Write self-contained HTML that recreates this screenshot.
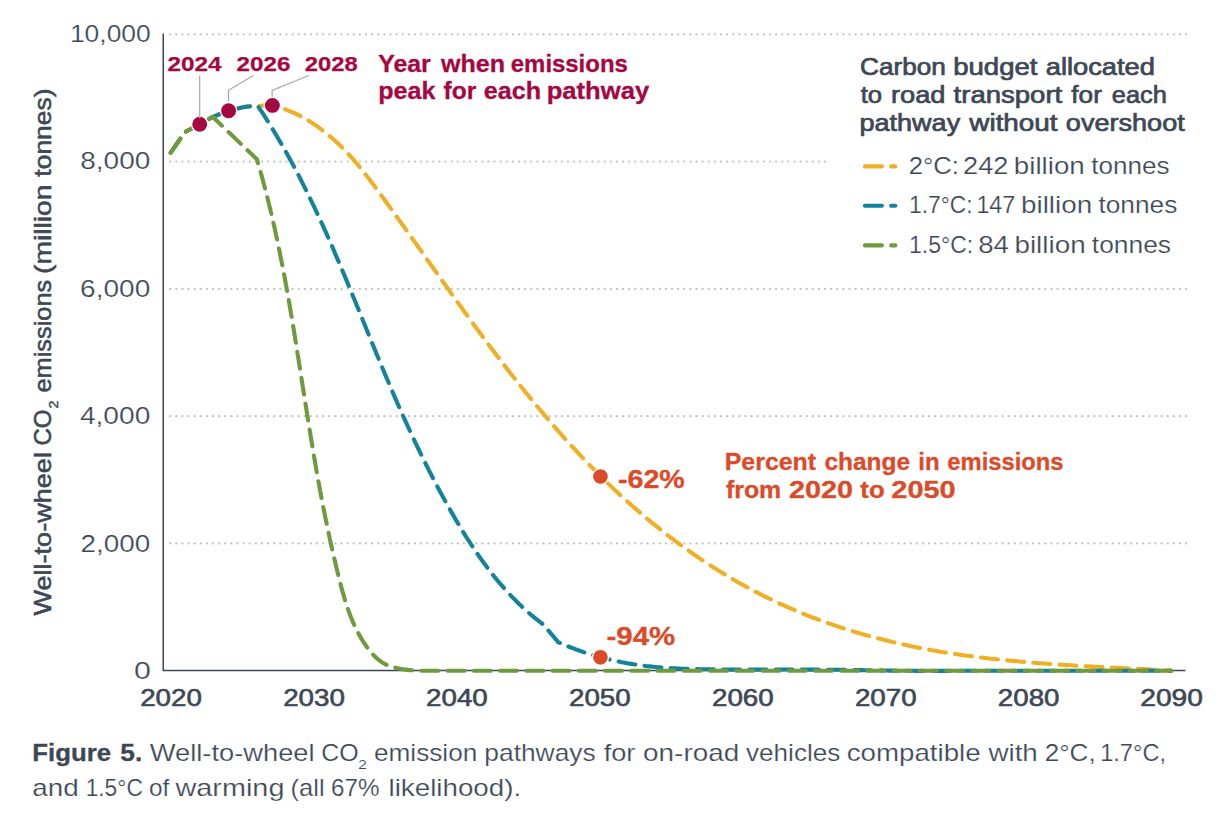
<!DOCTYPE html>
<html lang="en"><head><meta charset="utf-8"><title>Figure 5</title>
<style>html,body{margin:0;padding:0;background:#fff}svg{display:block}text{font-family:"Liberation Sans", Arial, sans-serif;}</style>
</head><body>
<svg width="1220" height="816" viewBox="0 0 1220 816">
<rect width="1220" height="816" fill="#fff"/>
<line x1="170.16" y1="34.35" x2="1186.6" y2="34.35" stroke="#c0c0c0" stroke-width="2.2" stroke-linecap="round" stroke-dasharray="0 6.1204"/>
<line x1="170.16" y1="161.62" x2="825.5" y2="161.62" stroke="#c0c0c0" stroke-width="2.2" stroke-linecap="round" stroke-dasharray="0 6.1204"/>
<line x1="170.16" y1="288.89" x2="1186.6" y2="288.89" stroke="#c0c0c0" stroke-width="2.2" stroke-linecap="round" stroke-dasharray="0 6.1204"/>
<line x1="170.16" y1="416.16" x2="1186.6" y2="416.16" stroke="#c0c0c0" stroke-width="2.2" stroke-linecap="round" stroke-dasharray="0 6.1204"/>
<line x1="170.16" y1="543.43" x2="1186.6" y2="543.43" stroke="#c0c0c0" stroke-width="2.2" stroke-linecap="round" stroke-dasharray="0 6.1204"/>
<path d="M163.25 33.5V670.6H1185.4" fill="none" stroke="#3e4652" stroke-width="1.5"/>
<path d="M170.7 152.7L184.9 132.1L199.7 124.2L212.8 116.9L214.7 116.1L216.7 115.3L218.7 114.5L220.6 113.8L222.6 113.0L224.6 112.3L226.6 111.6L228.6 111.0L230.7 110.3L232.7 109.7L234.7 109.2L236.8 108.7L238.8 108.2L240.9 107.7L243.0 107.3L245.1 106.9L247.1 106.6L249.2 106.4L251.3 106.1L253.5 106.0L255.6 105.9L257.7 105.8L272.4 105.4L274.4 105.9L276.3 106.4L278.2 107.0L280.2 107.6L282.1 108.3L284.0 108.9L285.9 109.6L287.7 110.3L289.6 111.1L291.4 111.9L293.2 112.7L295.1 113.5L296.9 114.3L298.6 115.2L300.4 116.1L302.2 117.1L303.9 118.0L305.7 119.0L307.4 120.0L309.1 121.1L310.8 122.1L312.5 123.2L314.1 124.3L315.8 125.4L317.4 126.5L319.0 127.7L320.6 128.9L322.2 130.1L323.8 131.3L325.4 132.5L327.0 133.8L328.5 135.1L330.0 136.3L331.6 137.6L333.1 139.0L334.6 140.3L336.0 141.7L337.5 143.0L338.9 144.4L340.4 145.8L341.8 147.2L343.2 148.6L344.6 150.1L346.0 151.5L347.4 153.0L348.7 154.4L350.1 155.9L351.4 157.4L352.8 158.9L354.1 160.4L355.4 161.9L356.7 163.5L358.0 165.0L359.2 166.5L360.5 168.1L361.8 169.7L363.0 171.2L364.3 172.8L365.5 174.4L366.8 176.0L368.0 177.5L369.2 179.1L370.4 180.7L371.6 182.3L372.8 183.9L374.1 185.6L375.3 187.2L376.4 188.8L377.6 190.4L378.8 192.0L380.0 193.6L381.2 195.3L382.4 196.9L383.6 198.5L384.8 200.1L385.9 201.8L387.1 203.4L388.3 205.0L389.5 206.6L390.6 208.2L391.8 209.9L393.0 211.5L394.2 213.1L395.3 214.8L396.5 216.4L397.7 218.0L398.8 219.6L400.0 221.3L401.2 222.9L402.3 224.5L403.5 226.1L404.7 227.8L405.8 229.4L407.0 231.0L408.1 232.7L409.3 234.3L410.5 235.9L411.6 237.6L412.8 239.2L413.9 240.8L415.1 242.4L416.3 244.1L417.4 245.7L418.6 247.3L419.7 249.0L420.9 250.6L422.0 252.2L423.2 253.9L424.3 255.5L425.5 257.1L426.7 258.8L427.8 260.4L429.0 262.0L430.1 263.7L431.3 265.3L432.4 266.9L433.6 268.5L434.7 270.2L435.9 271.8L437.1 273.4L438.2 275.1L439.4 276.7L440.5 278.3L441.7 280.0L442.8 281.6L444.0 283.2L445.2 284.8L446.3 286.5L447.5 288.1L448.6 289.7L449.8 291.4L451.0 293.0L452.1 294.6L453.3 296.2L454.5 297.9L455.6 299.5L456.8 301.1L458.0 302.7L459.1 304.4L460.3 306.0L461.5 307.6L462.6 309.2L463.8 310.9L465.0 312.5L466.2 314.1L467.3 315.7L468.5 317.4L469.7 319.0L470.9 320.6L472.1 322.2L473.2 323.8L474.4 325.5L475.6 327.1L476.8 328.7L478.0 330.3L479.2 331.9L480.4 333.5L481.6 335.2L482.8 336.8L484.0 338.4L485.2 340.0L486.4 341.6L487.6 343.2L488.8 344.8L490.0 346.4L491.2 348.0L492.4 349.6L493.6 351.2L494.8 352.8L496.0 354.4L497.2 356.0L498.5 357.6L499.7 359.2L500.9 360.8L502.1 362.4L503.4 364.0L504.6 365.6L505.8 367.2L507.0 368.8L508.3 370.4L509.5 372.0L510.7 373.6L512.0 375.1L513.2 376.7L514.5 378.3L515.7 379.9L517.0 381.5L518.2 383.0L519.5 384.6L520.7 386.2L522.0 387.8L523.2 389.3L524.5 390.9L525.7 392.5L527.0 394.0L528.3 395.6L529.5 397.1L530.8 398.7L532.1 400.2L533.4 401.8L534.6 403.3L535.9 404.9L537.2 406.4L538.5 408.0L539.8 409.5L541.1 411.1L542.4 412.6L543.7 414.1L545.0 415.7L546.3 417.2L547.6 418.7L548.9 420.3L550.2 421.8L551.5 423.3L552.8 424.8L554.1 426.3L555.4 427.8L556.8 429.4L558.1 430.9L559.4 432.4L560.7 433.9L562.1 435.4L563.4 436.9L564.7 438.4L566.1 439.9L567.4 441.3L568.8 442.8L570.1 444.3L571.5 445.8L572.8 447.3L574.2 448.7L575.6 450.2L576.9 451.7L578.3 453.1L579.7 454.6L581.0 456.1L582.4 457.5L583.8 459.0L585.2 460.4L586.5 461.9L587.9 463.3L589.3 464.8L590.7 466.2L592.1 467.6L593.5 469.0L594.9 470.5L596.3 471.9L597.8 473.3L599.2 474.7L600.6 476.1L602.0 477.6L603.4 479.0L604.9 480.4L606.3 481.8L607.7 483.2L609.2 484.5L610.6 485.9L612.0 487.3L613.5 488.7L614.9 490.1L616.4 491.4L617.9 492.8L619.3 494.2L620.8 495.5L622.3 496.9L623.7 498.2L625.2 499.6L626.7 500.9L628.2 502.3L629.7 503.6L631.2 504.9L632.7 506.3L634.2 507.6L635.7 508.9L637.2 510.2L638.7 511.5L640.2 512.8L641.7 514.1L643.2 515.4L644.8 516.7L646.3 518.0L647.8 519.3L649.4 520.6L650.9 521.9L652.5 523.1L654.0 524.4L655.6 525.7L657.1 526.9L658.7 528.2L660.2 529.4L661.8 530.7L663.4 531.9L665.0 533.1L666.5 534.4L668.1 535.6L669.7 536.8L671.3 538.0L672.9 539.2L674.5 540.4L676.1 541.6L677.7 542.8L679.3 544.0L680.9 545.2L682.6 546.4L684.2 547.5L685.8 548.7L687.4 549.9L689.1 551.0L690.7 552.2L692.4 553.3L694.0 554.5L695.7 555.6L697.3 556.7L699.0 557.9L700.6 559.0L702.3 560.1L704.0 561.2L705.6 562.3L707.3 563.4L709.0 564.5L710.7 565.6L712.3 566.7L714.0 567.7L715.7 568.8L717.4 569.9L719.1 570.9L720.8 572.0L722.5 573.0L724.2 574.1L726.0 575.1L727.7 576.1L729.4 577.2L731.1 578.2L732.8 579.2L734.6 580.2L736.3 581.2L738.0 582.2L739.8 583.2L741.5 584.1L743.3 585.1L745.0 586.1L746.8 587.0L748.6 588.0L750.3 588.9L752.1 589.9L753.9 590.8L755.6 591.8L757.4 592.7L759.2 593.6L761.0 594.5L762.7 595.4L764.5 596.3L766.3 597.2L768.1 598.1L769.9 598.9L771.7 599.8L773.5 600.7L775.3 601.5L777.2 602.4L779.0 603.2L780.8 604.1L782.6 604.9L784.4 605.7L786.3 606.5L788.1 607.3L789.9 608.1L791.8 608.9L793.6 609.7L795.5 610.5L797.3 611.3L799.2 612.1L801.0 612.8L802.9 613.6L804.7 614.3L806.6 615.1L808.4 615.8L810.3 616.5L812.2 617.3L814.0 618.0L815.9 618.7L817.8 619.4L819.7 620.1L821.6 620.8L823.4 621.5L825.3 622.1L827.2 622.8L829.1 623.5L831.0 624.1L832.9 624.8L834.8 625.4L836.7 626.1L838.6 626.7L840.5 627.4L842.4 628.0L844.3 628.6L846.2 629.2L848.1 629.8L850.0 630.4L852.0 631.0L853.9 631.6L855.8 632.2L857.7 632.7L859.6 633.3L861.6 633.9L863.5 634.4L865.4 635.0L867.4 635.5L869.3 636.0L871.2 636.6L873.2 637.1L875.1 637.6L877.0 638.1L879.0 638.6L880.9 639.1L882.9 639.6L884.8 640.1L886.7 640.6L888.7 641.1L890.6 641.6L892.6 642.0L894.5 642.5L896.5 642.9L898.4 643.4L900.4 643.8L902.4 644.3L904.3 644.7L906.3 645.1L908.2 645.5L910.2 646.0L912.1 646.4L914.1 646.8L916.1 647.2L918.0 647.6L920.0 647.9L922.0 648.3L923.9 648.7L925.9 649.1L927.9 649.4L929.8 649.8L931.8 650.2L933.8 650.5L935.7 650.8L937.7 651.2L939.7 651.5L941.7 651.9L943.6 652.2L945.6 652.5L947.6 652.8L949.6 653.1L951.5 653.4L953.5 653.7L955.5 654.0L957.5 654.3L959.5 654.6L961.4 654.9L963.4 655.2L965.4 655.5L967.4 655.7L969.4 656.0L971.4 656.3L973.3 656.5L975.3 656.8L977.3 657.0L979.3 657.3L981.3 657.5L983.3 657.8L985.3 658.0L987.3 658.2L989.2 658.5L991.2 658.7L993.2 658.9L995.2 659.1L997.2 659.3L999.2 659.6L1001.2 659.8L1003.2 660.0L1005.2 660.2L1007.2 660.4L1009.2 660.6L1011.2 660.8L1013.2 660.9L1015.2 661.1L1017.2 661.3L1019.2 661.5L1021.2 661.7L1023.2 661.8L1025.2 662.0L1027.2 662.2L1029.2 662.4L1031.2 662.5L1033.2 662.7L1035.2 662.8L1037.2 663.0L1039.2 663.2L1041.2 663.3L1043.2 663.5L1045.2 663.6L1047.2 663.7L1049.2 663.9L1051.2 664.0L1053.2 664.2L1055.2 664.3L1057.2 664.4L1059.2 664.6L1061.2 664.7L1063.2 664.8L1065.2 665.0L1067.2 665.1L1069.2 665.2L1071.2 665.3L1073.2 665.5L1075.2 665.6L1077.2 665.7L1079.2 665.8L1081.2 665.9L1083.2 666.0L1085.2 666.2L1087.2 666.3L1089.2 666.4L1091.2 666.5L1093.3 666.6L1095.3 666.7L1097.3 666.8L1099.3 666.9L1101.3 667.0L1103.3 667.1L1105.3 667.2L1107.3 667.3L1109.3 667.4L1111.3 667.5L1113.3 667.7L1115.3 667.8L1117.3 667.9L1119.3 668.0L1121.3 668.1L1123.3 668.2L1125.3 668.3L1127.3 668.4L1129.3 668.5L1131.3 668.6L1133.3 668.7L1135.3 668.8L1137.3 668.8L1139.3 668.9L1141.3 669.0L1143.3 669.1L1145.3 669.2L1147.3 669.3L1149.3 669.4L1151.3 669.6L1153.3 669.7L1155.3 669.8L1157.3 669.9L1159.3 670.0L1161.3 670.1L1163.3 670.2L1165.3 670.3L1167.3 670.4L1169.3 670.5L1171.3 670.6" stroke="#f0b025" stroke-width="4.1" stroke-linecap="round" stroke-linejoin="round" stroke-dasharray="17 9.24" fill="none"/>
<path d="M170.7 152.7L184.9 132.1L199.7 124.2L212.8 116.9L214.7 116.1L216.7 115.3L218.7 114.5L220.6 113.8L222.6 113.0L224.6 112.3L226.6 111.6L228.6 111.0L230.7 110.3L232.7 109.7L234.7 109.2L236.8 108.7L238.8 108.2L240.9 107.7L243.0 107.3L245.1 106.9L247.1 106.6L249.2 106.4L251.3 106.1L253.5 106.0L255.6 105.9L257.7 105.8L258.8 107.5L259.9 109.2L261.1 110.9L262.2 112.5L263.3 114.2L264.4 115.9L265.5 117.6L266.5 119.3L267.6 121.0L268.7 122.7L269.7 124.4L270.8 126.2L271.9 127.9L272.9 129.6L274.0 131.3L275.0 133.0L276.0 134.8L277.1 136.5L278.1 138.2L279.1 140.0L280.1 141.7L281.1 143.4L282.1 145.2L283.1 146.9L284.1 148.7L285.1 150.4L286.1 152.2L287.1 153.9L288.0 155.7L289.0 157.4L290.0 159.2L290.9 161.0L291.9 162.7L292.8 164.5L293.8 166.3L294.7 168.0L295.7 169.8L296.6 171.6L297.5 173.4L298.5 175.1L299.4 176.9L300.3 178.7L301.2 180.5L302.1 182.3L303.0 184.1L303.9 185.9L304.8 187.7L305.7 189.4L306.6 191.2L307.5 193.0L308.4 194.8L309.3 196.7L310.1 198.5L311.0 200.3L311.9 202.1L312.7 203.9L313.6 205.7L314.5 207.5L315.3 209.3L316.2 211.1L317.0 213.0L317.9 214.8L318.7 216.6L319.6 218.4L320.4 220.2L321.2 222.1L322.1 223.9L322.9 225.7L323.7 227.6L324.5 229.4L325.4 231.2L326.2 233.0L327.0 234.9L327.8 236.7L328.6 238.6L329.4 240.4L330.2 242.2L331.0 244.1L331.9 245.9L332.7 247.8L333.5 249.6L334.3 251.4L335.0 253.3L335.8 255.1L336.6 257.0L337.4 258.8L338.2 260.7L339.0 262.5L339.8 264.4L340.6 266.2L341.3 268.1L342.1 269.9L342.9 271.8L343.7 273.7L344.5 275.5L345.2 277.4L346.0 279.2L346.8 281.1L347.6 282.9L348.3 284.8L349.1 286.7L349.9 288.5L350.6 290.4L351.4 292.2L352.2 294.1L352.9 296.0L353.7 297.8L354.5 299.7L355.2 301.5L356.0 303.4L356.7 305.3L357.5 307.1L358.3 309.0L359.0 310.9L359.8 312.7L360.5 314.6L361.3 316.5L362.1 318.3L362.8 320.2L363.6 322.1L364.3 323.9L365.1 325.8L365.9 327.7L366.6 329.5L367.4 331.4L368.1 333.2L368.9 335.1L369.7 337.0L370.4 338.8L371.2 340.7L371.9 342.6L372.7 344.4L373.5 346.3L374.2 348.2L375.0 350.0L375.8 351.9L376.5 353.7L377.3 355.6L378.1 357.5L378.8 359.3L379.6 361.2L380.4 363.1L381.2 364.9L381.9 366.8L382.7 368.6L383.5 370.5L384.3 372.3L385.0 374.2L385.8 376.1L386.6 377.9L387.4 379.8L388.2 381.6L389.0 383.5L389.7 385.3L390.5 387.2L391.3 389.0L392.1 390.9L392.9 392.7L393.7 394.6L394.5 396.4L395.3 398.3L396.1 400.1L396.9 402.0L397.7 403.8L398.5 405.6L399.4 407.5L400.2 409.3L401.0 411.2L401.8 413.0L402.6 414.8L403.4 416.7L404.3 418.5L405.1 420.4L405.9 422.2L406.8 424.0L407.6 425.8L408.4 427.7L409.3 429.5L410.1 431.3L411.0 433.2L411.8 435.0L412.7 436.8L413.5 438.6L414.4 440.4L415.2 442.3L416.1 444.1L417.0 445.9L417.8 447.7L418.7 449.5L419.6 451.3L420.4 453.1L421.3 454.9L422.2 456.8L423.1 458.6L424.0 460.4L424.9 462.2L425.8 464.0L426.7 465.8L427.6 467.6L428.5 469.4L429.4 471.2L430.3 472.9L431.2 474.7L432.1 476.5L433.0 478.3L434.0 480.1L434.9 481.9L435.8 483.7L436.8 485.4L437.7 487.2L438.7 489.0L439.6 490.8L440.6 492.5L441.5 494.3L442.5 496.1L443.4 497.8L444.4 499.6L445.4 501.4L446.3 503.1L447.3 504.9L448.3 506.6L449.3 508.4L450.3 510.1L451.3 511.9L452.3 513.6L453.3 515.4L454.3 517.1L455.3 518.9L456.3 520.6L457.4 522.3L458.4 524.1L459.4 525.8L460.5 527.5L461.5 529.2L462.5 531.0L463.6 532.7L464.7 534.4L465.7 536.1L466.8 537.8L467.9 539.5L469.0 541.2L470.1 542.9L471.2 544.6L472.3 546.2L473.4 547.9L474.5 549.6L475.6 551.2L476.7 552.9L477.9 554.5L479.0 556.2L480.2 557.8L481.3 559.5L482.5 561.1L483.7 562.7L484.9 564.3L486.1 565.9L487.3 567.6L488.5 569.1L489.7 570.7L490.9 572.3L492.1 573.9L493.4 575.5L494.6 577.0L495.9 578.6L497.2 580.1L498.5 581.7L499.7 583.2L501.0 584.7L502.4 586.2L503.7 587.7L505.0 589.2L506.3 590.7L507.7 592.2L509.0 593.6L510.4 595.1L511.8 596.6L513.2 598.0L514.6 599.4L516.0 600.8L517.4 602.3L518.8 603.7L520.3 605.0L521.7 606.4L523.2 607.8L524.7 609.2L526.2 610.5L527.7 611.8L529.2 613.2L530.7 614.5L532.3 615.8L533.8 617.1L535.4 618.4L537.0 619.6L538.6 620.9L540.2 622.1L541.8 623.4L543.4 624.6L558.4 642.3L560.2 643.1L562.1 643.9L564.0 644.7L565.8 645.5L567.7 646.2L569.6 647.0L571.4 647.7L573.3 648.4L575.2 649.2L577.1 649.8L579.0 650.5L580.9 651.2L582.8 651.8L584.7 652.5L586.6 653.1L588.6 653.7L590.5 654.3L592.4 654.9L594.4 655.5L596.3 656.0L598.2 656.6L600.2 657.1L602.1 657.6L604.1 658.1L606.0 658.6L608.0 659.1L609.9 659.6L611.9 660.1L613.9 660.5L615.8 660.9L617.8 661.4L619.8 661.8L621.7 662.2L623.7 662.5L625.7 662.9L627.7 663.3L629.7 663.6L631.7 663.9L633.6 664.3L635.6 664.6L637.6 664.9L639.6 665.2L641.6 665.4L643.6 665.7L645.6 666.0L647.6 666.2L649.6 666.4L651.6 666.6L653.6 666.8L655.6 667.0L657.6 667.2L659.7 667.4L661.7 667.6L663.7 667.7L665.7 667.8L667.7 668.0L669.7 668.1L671.7 668.2L673.7 668.3L675.7 668.4L677.8 668.5L679.8 668.6L681.8 668.7L683.8 668.7L685.8 668.8L687.8 668.9L689.8 668.9L691.9 669.0L693.9 669.0L695.9 669.1L697.9 669.1L699.9 669.2L701.9 669.2L703.9 669.3L706.0 669.3L708.0 669.3L710.0 669.4L712.0 669.4L714.0 669.4L716.0 669.5L718.1 669.5L720.1 669.5L722.1 669.5L724.1 669.5L726.1 669.6L728.1 669.6L730.2 669.6L732.2 669.6L734.2 669.6L736.2 669.6L738.2 669.6L740.2 669.6L742.3 669.6L744.3 669.6L746.3 669.6L748.3 669.6L750.3 669.6L752.3 669.6L754.4 669.6L756.4 669.6L758.4 669.6L760.4 669.6L762.4 669.6L764.4 669.6L766.5 669.6L768.5 669.6L770.5 669.6L772.5 669.6L774.5 669.6L776.5 669.6L778.6 669.6L780.6 669.6L782.6 669.5L784.6 669.5L786.6 669.5L788.6 669.5L790.7 669.5L792.7 669.5L794.7 669.5L796.7 669.5L798.7 669.5L800.7 669.5L802.8 669.5L804.8 669.5L806.8 669.5L808.8 669.6L810.8 669.6L812.8 669.6L814.9 669.6L816.9 669.6L818.9 669.6L820.9 669.6L822.9 669.6L824.9 669.7L827.0 669.7L829.0 669.7L831.0 669.7L833.0 669.7L835.0 669.8L837.0 669.8L839.0 669.8L841.1 669.8L843.1 669.9L845.1 669.9L847.1 669.9L849.1 670.0L851.1 670.0L853.2 670.0L855.2 670.0L857.2 670.1L859.2 670.1L861.2 670.1L863.2 670.2L865.2 670.2L867.3 670.2L869.3 670.3L871.3 670.3L873.3 670.3L875.3 670.4L877.3 670.4L879.4 670.4L881.4 670.4L883.4 670.5L885.4 670.5L887.4 670.5L889.4 670.6L891.5 670.6L893.5 670.6L895.5 670.6L897.5 670.7L899.5 670.7L901.5 670.7L903.5 670.7L905.6 670.8L907.6 670.8L909.6 670.8L911.6 670.8L913.6 670.8L915.6 670.9L917.7 670.9L919.7 670.9L921.7 670.9L923.7 670.9L925.7 670.9L927.7 670.9L929.8 670.9L931.8 670.9L933.8 670.9L935.8 670.9L937.8 670.9L939.8 670.9L941.9 670.9L943.9 670.9L945.9 670.9L947.9 670.9L949.9 670.9L951.9 670.9L953.9 670.9L956.0 670.8L958.0 670.8L960.0 670.8L1171.3 670.8" stroke="#12839b" stroke-width="4.1" stroke-linecap="round" stroke-linejoin="round" stroke-dasharray="17 9.24" fill="none"/>
<path d="M170.7 152.7L184.9 132.1L199.7 124.2L212.8 116.9L256.9 159.3L257.5 161.2L258.0 163.2L258.6 165.1L259.2 167.0L259.7 168.9L260.3 170.9L260.8 172.8L261.3 174.7L261.9 176.7L262.4 178.6L262.9 180.6L263.4 182.5L264.0 184.4L264.5 186.4L265.0 188.3L265.5 190.3L266.0 192.2L266.5 194.1L267.0 196.1L267.5 198.0L268.0 200.0L268.5 201.9L268.9 203.9L269.4 205.8L269.9 207.8L270.4 209.7L270.8 211.7L271.3 213.6L271.7 215.6L272.2 217.6L272.6 219.5L273.1 221.5L273.5 223.4L274.0 225.4L274.4 227.3L274.9 229.3L275.3 231.3L275.7 233.2L276.1 235.2L276.6 237.1L277.0 239.1L277.4 241.1L277.8 243.0L278.2 245.0L278.6 247.0L279.0 248.9L279.4 250.9L279.8 252.9L280.2 254.8L280.6 256.8L281.0 258.8L281.4 260.8L281.8 262.7L282.2 264.7L282.6 266.7L283.0 268.6L283.3 270.6L283.7 272.6L284.1 274.6L284.5 276.5L284.8 278.5L285.2 280.5L285.6 282.5L285.9 284.4L286.3 286.4L286.6 288.4L287.0 290.4L287.4 292.4L287.7 294.3L288.1 296.3L288.4 298.3L288.8 300.3L289.1 302.3L289.4 304.2L289.8 306.2L290.1 308.2L290.5 310.2L290.8 312.2L291.1 314.1L291.5 316.1L291.8 318.1L292.1 320.1L292.5 322.1L292.8 324.1L293.1 326.0L293.5 328.0L293.8 330.0L294.1 332.0L294.4 334.0L294.8 336.0L295.1 338.0L295.4 339.9L295.7 341.9L296.1 343.9L296.4 345.9L296.7 347.9L297.0 349.9L297.3 351.9L297.6 353.8L298.0 355.8L298.3 357.8L298.6 359.8L298.9 361.8L299.2 363.8L299.5 365.8L299.8 367.8L300.1 369.7L300.5 371.7L300.8 373.7L301.1 375.7L301.4 377.7L301.7 379.7L302.0 381.7L302.3 383.7L302.6 385.6L302.9 387.6L303.3 389.6L303.6 391.6L303.9 393.6L304.2 395.6L304.5 397.6L304.8 399.5L305.1 401.5L305.4 403.5L305.8 405.5L306.1 407.5L306.4 409.5L306.7 411.5L307.0 413.4L307.3 415.4L307.6 417.4L308.0 419.4L308.3 421.4L308.6 423.4L308.9 425.3L309.2 427.3L309.6 429.3L309.9 431.3L310.2 433.3L310.5 435.3L310.8 437.2L311.2 439.2L311.5 441.2L311.8 443.2L312.2 445.2L312.5 447.1L312.8 449.1L313.1 451.1L313.5 453.1L313.8 455.1L314.1 457.0L314.5 459.0L314.8 461.0L315.2 463.0L315.5 464.9L315.9 466.9L316.2 468.9L316.5 470.9L316.9 472.8L317.2 474.8L317.6 476.8L318.0 478.8L318.3 480.7L318.7 482.7L319.0 484.7L319.4 486.6L319.8 488.6L320.1 490.6L320.5 492.5L320.9 494.5L321.2 496.5L321.6 498.5L322.0 500.4L322.4 502.4L322.7 504.4L323.1 506.3L323.5 508.3L323.9 510.3L324.3 512.2L324.7 514.2L325.1 516.1L325.5 518.1L325.9 520.1L326.3 522.0L326.7 524.0L327.1 526.0L327.5 527.9L327.9 529.9L328.3 531.9L328.8 533.8L329.2 535.8L329.6 537.8L330.0 539.7L330.5 541.7L330.9 543.7L331.3 545.6L331.8 547.6L332.2 549.6L332.7 551.5L333.1 553.5L333.6 555.4L334.0 557.4L334.5 559.4L334.9 561.3L335.4 563.3L335.9 565.3L336.3 567.2L336.8 569.2L337.3 571.2L337.8 573.1L338.3 575.1L338.7 577.1L339.2 579.0L339.7 581.0L340.2 583.0L340.7 584.9L341.3 586.9L341.8 588.9L342.3 590.8L342.9 592.8L343.4 594.7L344.0 596.7L344.6 598.6L345.1 600.5L345.7 602.5L346.4 604.4L347.0 606.3L347.6 608.2L348.3 610.1L349.0 612.0L349.7 613.9L350.4 615.8L351.1 617.6L351.9 619.5L352.6 621.3L353.4 623.2L354.3 625.0L355.1 626.8L356.0 628.6L356.8 630.4L357.8 632.1L358.7 633.9L359.7 635.6L360.7 637.4L361.7 639.1L362.7 640.8L363.8 642.5L364.9 644.1L366.0 645.8L367.2 647.4L368.4 649.0L369.7 650.6L370.9 652.1L372.2 653.7L373.6 655.1L375.0 656.6L376.4 657.9L377.9 659.2L379.5 660.5L381.1 661.6L382.7 662.7L384.4 663.7L386.2 664.6L388.0 665.4L389.9 666.1L391.8 666.8L393.8 667.3L395.7 667.8L397.7 668.3L399.7 668.7L401.7 669.1L403.8 669.4L405.8 669.6L407.8 669.9L409.9 670.1L411.9 670.3L413.9 670.4L416.0 670.5L418.0 670.6L420.1 670.7L422.1 670.7L424.1 670.8L426.2 670.8L428.2 670.8L430.2 670.8L432.2 670.8L434.1 670.8L436.1 670.8L438.1 670.8L440.0 670.8L1171.3 670.8" stroke="#6f9a3d" stroke-width="4.1" stroke-linecap="round" stroke-linejoin="round" stroke-dasharray="17 9.24" fill="none"/>
<circle cx="199.7" cy="124.2" r="8.1" fill="#a50841" stroke="#fff" stroke-width="1.3"/>
<circle cx="228.6" cy="110.8" r="8.1" fill="#a50841" stroke="#fff" stroke-width="1.3"/>
<circle cx="272.4" cy="105.4" r="8.1" fill="#a50841" stroke="#fff" stroke-width="1.3"/>
<circle cx="600.45" cy="476.5" r="8.0" fill="#db4b29" stroke="#fff" stroke-width="1.3"/>
<circle cx="600.45" cy="657.3" r="8.0" fill="#db4b29" stroke="#fff" stroke-width="1.3"/>
<path d="M199.7 75.5V118.5M253.4 75.5L228.5 90.3V101.6M308.9 75.5L272.1 90.3V96.7" fill="none" stroke="#a9a9a9" stroke-width="1.25"/>
<text x="69.94" y="42" font-size="23.2" fill="#3e4855" textLength="80.74" lengthAdjust="spacingAndGlyphs" stroke="#fff" stroke-width="0.2" stroke-linejoin="round">10,000</text>
<text x="80.25" y="169" font-size="23.2" fill="#3e4855" textLength="70.07" lengthAdjust="spacingAndGlyphs" stroke="#fff" stroke-width="0.2" stroke-linejoin="round">8,000</text>
<text x="80.1" y="297" font-size="23.2" fill="#3e4855" textLength="70.23" lengthAdjust="spacingAndGlyphs" stroke="#fff" stroke-width="0.2" stroke-linejoin="round">6,000</text>
<text x="79.9" y="424" font-size="23.2" fill="#3e4855" textLength="70.43" lengthAdjust="spacingAndGlyphs" stroke="#fff" stroke-width="0.2" stroke-linejoin="round">4,000</text>
<text x="80.54" y="552" font-size="23.2" fill="#3e4855" textLength="69.78" lengthAdjust="spacingAndGlyphs" stroke="#fff" stroke-width="0.2" stroke-linejoin="round">2,000</text>
<text x="133.94" y="679" font-size="23.2" fill="#3e4855" textLength="16.91" lengthAdjust="spacingAndGlyphs" stroke="#fff" stroke-width="0.2" stroke-linejoin="round">0</text>
<text x="140.21" y="706" font-size="23.2" fill="#3e4855" textLength="61.7" lengthAdjust="spacingAndGlyphs" stroke="#3e4855" stroke-width="0.6" stroke-linejoin="round">2020</text>
<text x="283.15" y="706" font-size="23.2" fill="#3e4855" textLength="61.7" lengthAdjust="spacingAndGlyphs" stroke="#3e4855" stroke-width="0.6" stroke-linejoin="round">2030</text>
<text x="426.09" y="706" font-size="23.2" fill="#3e4855" textLength="61.7" lengthAdjust="spacingAndGlyphs" stroke="#3e4855" stroke-width="0.6" stroke-linejoin="round">2040</text>
<text x="569.03" y="706" font-size="23.2" fill="#3e4855" textLength="61.7" lengthAdjust="spacingAndGlyphs" stroke="#3e4855" stroke-width="0.6" stroke-linejoin="round">2050</text>
<text x="711.97" y="706" font-size="23.2" fill="#3e4855" textLength="61.7" lengthAdjust="spacingAndGlyphs" stroke="#3e4855" stroke-width="0.6" stroke-linejoin="round">2060</text>
<text x="854.91" y="706" font-size="23.2" fill="#3e4855" textLength="61.7" lengthAdjust="spacingAndGlyphs" stroke="#3e4855" stroke-width="0.6" stroke-linejoin="round">2070</text>
<text x="997.85" y="706" font-size="23.2" fill="#3e4855" textLength="61.7" lengthAdjust="spacingAndGlyphs" stroke="#3e4855" stroke-width="0.6" stroke-linejoin="round">2080</text>
<text x="1140.32" y="706" font-size="23.2" fill="#3e4855" textLength="62.63" lengthAdjust="spacingAndGlyphs" stroke="#3e4855" stroke-width="0.6" stroke-linejoin="round">2090</text>
<text x="167.58" y="71" font-size="20.2" fill="#a50841" font-weight="bold" textLength="54.07" lengthAdjust="spacingAndGlyphs" stroke="#a50841" stroke-width="0.25" stroke-linejoin="round">2024</text>
<text x="236.58" y="71" font-size="20.2" fill="#a50841" font-weight="bold" textLength="53.78" lengthAdjust="spacingAndGlyphs" stroke="#a50841" stroke-width="0.25" stroke-linejoin="round">2026</text>
<text x="304.89" y="71" font-size="20.2" fill="#a50841" font-weight="bold" textLength="52.85" lengthAdjust="spacingAndGlyphs" stroke="#a50841" stroke-width="0.25" stroke-linejoin="round">2028</text>
<text x="378.35" y="72" font-size="23.0" fill="#a50841" font-weight="bold" textLength="52.44" lengthAdjust="spacingAndGlyphs" stroke="#a50841" stroke-width="0.3" stroke-linejoin="round">Year</text>
<text x="441.0" y="72" font-size="23.0" fill="#a50841" font-weight="bold" textLength="63.97" lengthAdjust="spacingAndGlyphs" stroke="#a50841" stroke-width="0.3" stroke-linejoin="round">when</text>
<text x="510.82" y="72" font-size="23.0" fill="#a50841" font-weight="bold" textLength="116.98" lengthAdjust="spacingAndGlyphs" stroke="#a50841" stroke-width="0.3" stroke-linejoin="round">emissions</text>
<text x="378.16" y="99" font-size="23.0" fill="#a50841" font-weight="bold" textLength="57.21" lengthAdjust="spacingAndGlyphs" stroke="#a50841" stroke-width="0.3" stroke-linejoin="round">peak</text>
<text x="443.59" y="99" font-size="23.0" fill="#a50841" font-weight="bold" textLength="32.67" lengthAdjust="spacingAndGlyphs" stroke="#a50841" stroke-width="0.3" stroke-linejoin="round">for</text>
<text x="483.78" y="99" font-size="23.0" fill="#a50841" font-weight="bold" textLength="57.25" lengthAdjust="spacingAndGlyphs" stroke="#a50841" stroke-width="0.3" stroke-linejoin="round">each</text>
<text x="546.73" y="99" font-size="23.0" fill="#a50841" font-weight="bold" textLength="102.45" lengthAdjust="spacingAndGlyphs" stroke="#a50841" stroke-width="0.3" stroke-linejoin="round">pathway</text>
<text x="617.93" y="488" font-size="26.0" fill="#db4b29" font-weight="bold" textLength="66.85" lengthAdjust="spacingAndGlyphs" stroke="#db4b29" stroke-width="0.3" stroke-linejoin="round">-62%</text>
<text x="606.51" y="645" font-size="26.0" fill="#db4b29" font-weight="bold" textLength="68.69" lengthAdjust="spacingAndGlyphs" stroke="#db4b29" stroke-width="0.3" stroke-linejoin="round">-94%</text>
<text x="724.78" y="470" font-size="23.0" fill="#db4b29" font-weight="bold" textLength="91.3" lengthAdjust="spacingAndGlyphs" stroke="#db4b29" stroke-width="0.3" stroke-linejoin="round">Percent</text>
<text x="824.5" y="470" font-size="23.0" fill="#db4b29" font-weight="bold" textLength="85.51" lengthAdjust="spacingAndGlyphs" stroke="#db4b29" stroke-width="0.3" stroke-linejoin="round">change</text>
<text x="918.39" y="470" font-size="23.0" fill="#db4b29" font-weight="bold" textLength="21.28" lengthAdjust="spacingAndGlyphs" stroke="#db4b29" stroke-width="0.3" stroke-linejoin="round">in</text>
<text x="947.33" y="470" font-size="23.0" fill="#db4b29" font-weight="bold" textLength="116.27" lengthAdjust="spacingAndGlyphs" stroke="#db4b29" stroke-width="0.3" stroke-linejoin="round">emissions</text>
<text x="725.99" y="498" font-size="23.0" fill="#db4b29" font-weight="bold" textLength="55.25" lengthAdjust="spacingAndGlyphs" stroke="#db4b29" stroke-width="0.3" stroke-linejoin="round">from</text>
<text x="788.93" y="498" font-size="23.0" fill="#db4b29" font-weight="bold" textLength="64.1" lengthAdjust="spacingAndGlyphs" stroke="#db4b29" stroke-width="0.3" stroke-linejoin="round">2020</text>
<text x="860.35" y="498" font-size="23.0" fill="#db4b29" font-weight="bold" textLength="24.31" lengthAdjust="spacingAndGlyphs" stroke="#db4b29" stroke-width="0.3" stroke-linejoin="round">to</text>
<text x="891.33" y="498" font-size="23.0" fill="#db4b29" font-weight="bold" textLength="64.3" lengthAdjust="spacingAndGlyphs" stroke="#db4b29" stroke-width="0.3" stroke-linejoin="round">2050</text>
<text x="860.02" y="75" font-size="23.0" fill="#3e4855" textLength="85.72" lengthAdjust="spacingAndGlyphs" stroke="#3e4855" stroke-width="0.7" stroke-linejoin="round">Carbon</text>
<text x="953.23" y="75" font-size="23.0" fill="#3e4855" textLength="84.28" lengthAdjust="spacingAndGlyphs" stroke="#3e4855" stroke-width="0.7" stroke-linejoin="round">budget</text>
<text x="1045.74" y="75" font-size="23.0" fill="#3e4855" textLength="109.21" lengthAdjust="spacingAndGlyphs" stroke="#3e4855" stroke-width="0.7" stroke-linejoin="round">allocated</text>
<text x="860.75" y="103" font-size="23.0" fill="#3e4855" textLength="21.37" lengthAdjust="spacingAndGlyphs" stroke="#3e4855" stroke-width="0.7" stroke-linejoin="round">to</text>
<text x="891.02" y="103" font-size="23.0" fill="#3e4855" textLength="54.49" lengthAdjust="spacingAndGlyphs" stroke="#3e4855" stroke-width="0.7" stroke-linejoin="round">road</text>
<text x="953.64" y="103" font-size="23.0" fill="#3e4855" textLength="108.57" lengthAdjust="spacingAndGlyphs" stroke="#3e4855" stroke-width="0.7" stroke-linejoin="round">transport</text>
<text x="1071.34" y="103" font-size="23.0" fill="#3e4855" textLength="30.54" lengthAdjust="spacingAndGlyphs" stroke="#3e4855" stroke-width="0.7" stroke-linejoin="round">for</text>
<text x="1111.8" y="103" font-size="23.0" fill="#3e4855" textLength="54.96" lengthAdjust="spacingAndGlyphs" stroke="#3e4855" stroke-width="0.7" stroke-linejoin="round">each</text>
<text x="859.46" y="131" font-size="23.0" fill="#3e4855" textLength="100.73" lengthAdjust="spacingAndGlyphs" stroke="#3e4855" stroke-width="0.7" stroke-linejoin="round">pathway</text>
<text x="969.33" y="131" font-size="23.0" fill="#3e4855" textLength="88.24" lengthAdjust="spacingAndGlyphs" stroke="#3e4855" stroke-width="0.7" stroke-linejoin="round">without</text>
<text x="1065.86" y="131" font-size="23.0" fill="#3e4855" textLength="118.88" lengthAdjust="spacingAndGlyphs" stroke="#3e4855" stroke-width="0.7" stroke-linejoin="round">overshoot</text>
<text x="908.67" y="174" font-size="23.2" fill="#3e4855" textLength="50.28" lengthAdjust="spacingAndGlyphs" stroke="#fff" stroke-width="0.2" stroke-linejoin="round">2°C:</text>
<text x="963.08" y="174" font-size="23.2" fill="#3e4855" textLength="45.25" lengthAdjust="spacingAndGlyphs" stroke="#fff" stroke-width="0.2" stroke-linejoin="round">242</text>
<text x="1013.82" y="174" font-size="23.2" fill="#3e4855" textLength="70.93" lengthAdjust="spacingAndGlyphs" stroke="#fff" stroke-width="0.2" stroke-linejoin="round">billion</text>
<text x="1091.22" y="174" font-size="23.2" fill="#3e4855" textLength="78.3" lengthAdjust="spacingAndGlyphs" stroke="#fff" stroke-width="0.2" stroke-linejoin="round">tonnes</text>
<text x="909.02" y="213" font-size="23.2" fill="#3e4855" textLength="63.62" lengthAdjust="spacingAndGlyphs" stroke="#fff" stroke-width="0.2" stroke-linejoin="round">1.7°C:</text>
<text x="976.38" y="213" font-size="23.2" fill="#3e4855" textLength="38.95" lengthAdjust="spacingAndGlyphs" stroke="#fff" stroke-width="0.2" stroke-linejoin="round">147</text>
<text x="1021.01" y="213" font-size="23.2" fill="#3e4855" textLength="71.25" lengthAdjust="spacingAndGlyphs" stroke="#fff" stroke-width="0.2" stroke-linejoin="round">billion</text>
<text x="1098.42" y="213" font-size="23.2" fill="#3e4855" textLength="78.92" lengthAdjust="spacingAndGlyphs" stroke="#fff" stroke-width="0.2" stroke-linejoin="round">tonnes</text>
<text x="909.0" y="253" font-size="23.2" fill="#3e4855" textLength="64.26" lengthAdjust="spacingAndGlyphs" stroke="#fff" stroke-width="0.2" stroke-linejoin="round">1.5°C:</text>
<text x="978.17" y="253" font-size="23.2" fill="#3e4855" textLength="30.77" lengthAdjust="spacingAndGlyphs" stroke="#fff" stroke-width="0.2" stroke-linejoin="round">84</text>
<text x="1014.41" y="253" font-size="23.2" fill="#3e4855" textLength="71.25" lengthAdjust="spacingAndGlyphs" stroke="#fff" stroke-width="0.2" stroke-linejoin="round">billion</text>
<text x="1091.82" y="253" font-size="23.2" fill="#3e4855" textLength="79.22" lengthAdjust="spacingAndGlyphs" stroke="#fff" stroke-width="0.2" stroke-linejoin="round">tonnes</text>
<text x="32.34" y="761" font-size="23.4" fill="#3e4855" font-weight="bold" textLength="78.69" lengthAdjust="spacingAndGlyphs" stroke="#3e4855" stroke-width="0.3" stroke-linejoin="round">Figure</text>
<text x="120.29" y="761" font-size="23.4" fill="#3e4855" font-weight="bold" textLength="21.97" lengthAdjust="spacingAndGlyphs" stroke="#3e4855" stroke-width="0.3" stroke-linejoin="round">5.</text>
<text x="149.79" y="761" font-size="23.4" fill="#3e4855" textLength="164.8" lengthAdjust="spacingAndGlyphs" stroke="#fff" stroke-width="0.2" stroke-linejoin="round">Well-to-wheel</text>
<text x="321.3" y="761" font-size="23.4" fill="#3e4855" textLength="37.38" lengthAdjust="spacingAndGlyphs" stroke="#fff" stroke-width="0.2" stroke-linejoin="round">CO</text>
<text x="373.99" y="761" font-size="23.4" fill="#3e4855" textLength="103.25" lengthAdjust="spacingAndGlyphs" stroke="#fff" stroke-width="0.2" stroke-linejoin="round">emission</text>
<text x="484.33" y="761" font-size="23.4" fill="#3e4855" textLength="111.32" lengthAdjust="spacingAndGlyphs" stroke="#fff" stroke-width="0.2" stroke-linejoin="round">pathways</text>
<text x="603.71" y="761" font-size="23.4" fill="#3e4855" textLength="31.72" lengthAdjust="spacingAndGlyphs" stroke="#fff" stroke-width="0.2" stroke-linejoin="round">for</text>
<text x="643.12" y="761" font-size="23.4" fill="#3e4855" textLength="96.05" lengthAdjust="spacingAndGlyphs" stroke="#fff" stroke-width="0.2" stroke-linejoin="round">on-road</text>
<text x="746.01" y="761" font-size="23.4" fill="#3e4855" textLength="94.31" lengthAdjust="spacingAndGlyphs" stroke="#fff" stroke-width="0.2" stroke-linejoin="round">vehicles</text>
<text x="846.71" y="761" font-size="23.4" fill="#3e4855" textLength="133.97" lengthAdjust="spacingAndGlyphs" stroke="#fff" stroke-width="0.2" stroke-linejoin="round">compatible</text>
<text x="988.42" y="761" font-size="23.4" fill="#3e4855" textLength="49.4" lengthAdjust="spacingAndGlyphs" stroke="#fff" stroke-width="0.2" stroke-linejoin="round">with</text>
<text x="1044.76" y="761" font-size="23.4" fill="#3e4855" textLength="50.89" lengthAdjust="spacingAndGlyphs" stroke="#fff" stroke-width="0.2" stroke-linejoin="round">2°C,</text>
<text x="1100.17" y="761" font-size="23.4" fill="#3e4855" textLength="65.89" lengthAdjust="spacingAndGlyphs" stroke="#fff" stroke-width="0.2" stroke-linejoin="round">1.7°C,</text>
<text x="358.36" y="769" font-size="13.6" fill="#3e4855" textLength="8.49" lengthAdjust="spacingAndGlyphs" stroke="#fff" stroke-width="0.1" stroke-linejoin="round">2</text>
<text x="32.36" y="796" font-size="23.4" fill="#3e4855" textLength="46.44" lengthAdjust="spacingAndGlyphs" stroke="#fff" stroke-width="0.2" stroke-linejoin="round">and</text>
<text x="85.64" y="796" font-size="23.4" fill="#3e4855" textLength="57.23" lengthAdjust="spacingAndGlyphs" stroke="#fff" stroke-width="0.2" stroke-linejoin="round">1.5°C</text>
<text x="149.01" y="796" font-size="23.4" fill="#3e4855" textLength="20.31" lengthAdjust="spacingAndGlyphs" stroke="#fff" stroke-width="0.2" stroke-linejoin="round">of</text>
<text x="175.51" y="796" font-size="23.4" fill="#3e4855" textLength="108.94" lengthAdjust="spacingAndGlyphs" stroke="#fff" stroke-width="0.2" stroke-linejoin="round">warming</text>
<text x="290.56" y="796" font-size="23.4" fill="#3e4855" textLength="34.03" lengthAdjust="spacingAndGlyphs" stroke="#fff" stroke-width="0.2" stroke-linejoin="round">(all</text>
<text x="331.14" y="796" font-size="23.4" fill="#3e4855" textLength="48.44" lengthAdjust="spacingAndGlyphs" stroke="#fff" stroke-width="0.2" stroke-linejoin="round">67%</text>
<text x="388.49" y="796" font-size="23.4" fill="#3e4855" textLength="132.72" lengthAdjust="spacingAndGlyphs" stroke="#fff" stroke-width="0.2" stroke-linejoin="round">likelihood).</text>
<g transform="translate(50.8 615.4) rotate(-90)"><text x="-0.16" y="0" font-size="23.6" fill="#3e4855" textLength="163.46" lengthAdjust="spacingAndGlyphs" stroke="#3e4855" stroke-width="0.55" stroke-linejoin="round">Well-to-wheel</text><text x="169.93" y="0" font-size="23.6" fill="#3e4855" textLength="35.9" lengthAdjust="spacingAndGlyphs" stroke="#3e4855" stroke-width="0.55" stroke-linejoin="round">CO</text><text x="222.82" y="0" font-size="23.6" fill="#3e4855" textLength="112.79" lengthAdjust="spacingAndGlyphs" stroke="#3e4855" stroke-width="0.55" stroke-linejoin="round">emissions</text><text x="341.44" y="0" font-size="23.6" fill="#3e4855" textLength="89.51" lengthAdjust="spacingAndGlyphs" stroke="#3e4855" stroke-width="0.55" stroke-linejoin="round">(million</text><text x="438.78" y="0" font-size="23.6" fill="#3e4855" textLength="88.16" lengthAdjust="spacingAndGlyphs" stroke="#3e4855" stroke-width="0.55" stroke-linejoin="round">tonnes)</text><text x="206.98" y="7.3" font-size="13.6" fill="#3e4855" textLength="8.02" lengthAdjust="spacingAndGlyphs" stroke="#3e4855" stroke-width="0.4" stroke-linejoin="round">2</text></g>
<path d="M864.9 166.4H895.3" stroke="#f0b025" stroke-width="4.1" stroke-linecap="round" stroke-linejoin="round" stroke-dasharray="17 9.24" fill="none"/>
<path d="M864.9 205.8H895.3" stroke="#12839b" stroke-width="4.1" stroke-linecap="round" stroke-linejoin="round" stroke-dasharray="17 9.24" fill="none"/>
<path d="M864.9 245.4H895.3" stroke="#6f9a3d" stroke-width="4.1" stroke-linecap="round" stroke-linejoin="round" stroke-dasharray="17 9.24" fill="none"/>
</svg>
</body></html>
